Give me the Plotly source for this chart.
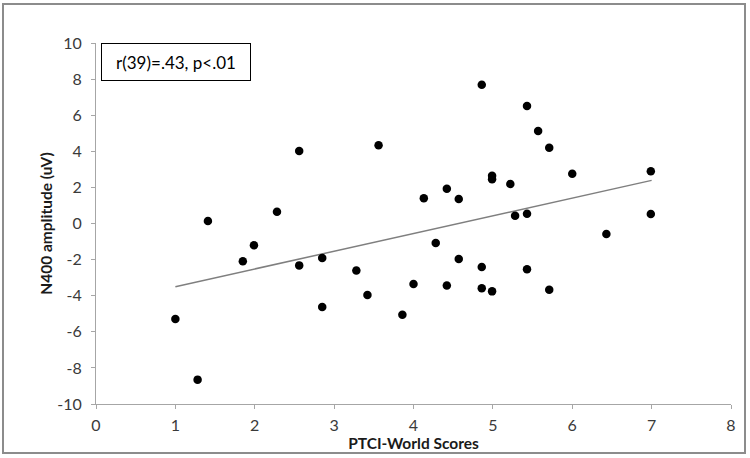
import plotly.graph_objects as go

# Data
ptci_world = [1.00, 1.28, 1.41, 1.85, 1.99, 2.28, 2.56, 2.56, 2.85, 2.85,
              3.28, 3.42, 3.56, 3.86, 4.00, 4.13, 4.28, 4.42, 4.42, 4.57,
              4.57, 4.86, 4.86, 4.86, 4.99, 4.99, 4.99, 5.22, 5.28, 5.43,
              5.43, 5.43, 5.57, 5.71, 5.71, 6.00, 6.43, 6.99, 6.99]
n400_amp = [-5.29, -8.65, 0.14, -2.09, -1.21, 0.65, 4.02, -2.32, -1.91, -4.63,
            -2.61, -3.96, 4.33, -5.05, -3.35, 1.40, -1.08, 1.93, -3.44, 1.36,
            -1.97, 7.69, -2.41, -3.59, 2.65, 2.45, -3.76, 2.19, 0.43, 0.54,
            6.51, -2.54, 5.12, 4.20, -3.67, 2.76, -0.58, 2.89, 0.53]

trend_x = [1.0, 7.0]
trend_y = [-3.50, 2.39]

x_ticks = [0, 1, 2, 3, 4, 5, 6, 7, 8]
y_ticks = [-10, -8, -6, -4, -2, 0, 2, 4, 6, 8, 10]
y_tick_labels = ["-10", "-8", "-6", "-4", "-2", "0", "2", "4", "6", "8", "10"]

stat_label = "r(39)=.43, p<.01"
x_title = "PTCI-World Scores"
y_title = "N400 amplitude (uV)"

FONT = "Lato, 'Liberation Sans', sans-serif"

fig = go.Figure()
fig.add_trace(go.Scatter(
    x=trend_x, y=trend_y, mode="lines",
    line=dict(color="#7f7f7f", width=1.5), hoverinfo="skip", showlegend=False))
fig.add_trace(go.Scatter(
    x=ptci_world, y=n400_amp, mode="markers",
    marker=dict(color="black", size=8.5), showlegend=False))

axis_common = dict(
    showgrid=False, zeroline=False, showline=True, linecolor="#a6a6a6", linewidth=1,
    ticks="outside", ticklen=4, tickcolor="#a6a6a6",
    tickfont=dict(family=FONT, size=16, color="#3a3a3a"),
)

fig.update_xaxes(range=[0, 8], tickvals=x_ticks, ticklabelstandoff=3, **axis_common,
                 title=dict(text="<b>" + x_title + "</b>", standoff=1,
                            font=dict(family=FONT, size=15.5, color="#1a1a1a")))
fig.update_yaxes(range=[-10, 10], tickvals=y_ticks, ticktext=y_tick_labels,
                 ticklabelstandoff=6, **axis_common,
                 title=dict(text="<b>" + y_title + "</b>", standoff=0,
                            font=dict(family=FONT, size=15.5, color="#1a1a1a")))

fig.add_annotation(
    text=stat_label, xref="paper", yref="paper", x=0.008, y=1.0,
    xanchor="left", yanchor="top", showarrow=False,
    width=146, height=34, align="center", valign="middle",
    bordercolor="black", borderwidth=1, borderpad=1, bgcolor="white",
    font=dict(family=FONT, size=17, color="black"))

# outer chart border (paper coords relative to plot area 96..731 x, 43..404 y)
fig.add_shape(type="rect", xref="paper", yref="paper",
              x0=(3 - 96) / 635, x1=(745 - 96) / 635,
              y0=(404 - 453) / 361, y1=(404 - 4) / 361,
              line=dict(color="#8c8c8c", width=2), layer="below")

fig.update_layout(
    width=750, height=458,
    margin=dict(l=96, r=19, t=43, b=54, autoexpand=False),
    paper_bgcolor="white", plot_bgcolor="white",
    font=dict(family=FONT),
)

fig.write_html("out.html",
               config={"displayModeBar": False},
               post_script="document.body.style.margin='0';document.body.style.overflow='hidden';")
